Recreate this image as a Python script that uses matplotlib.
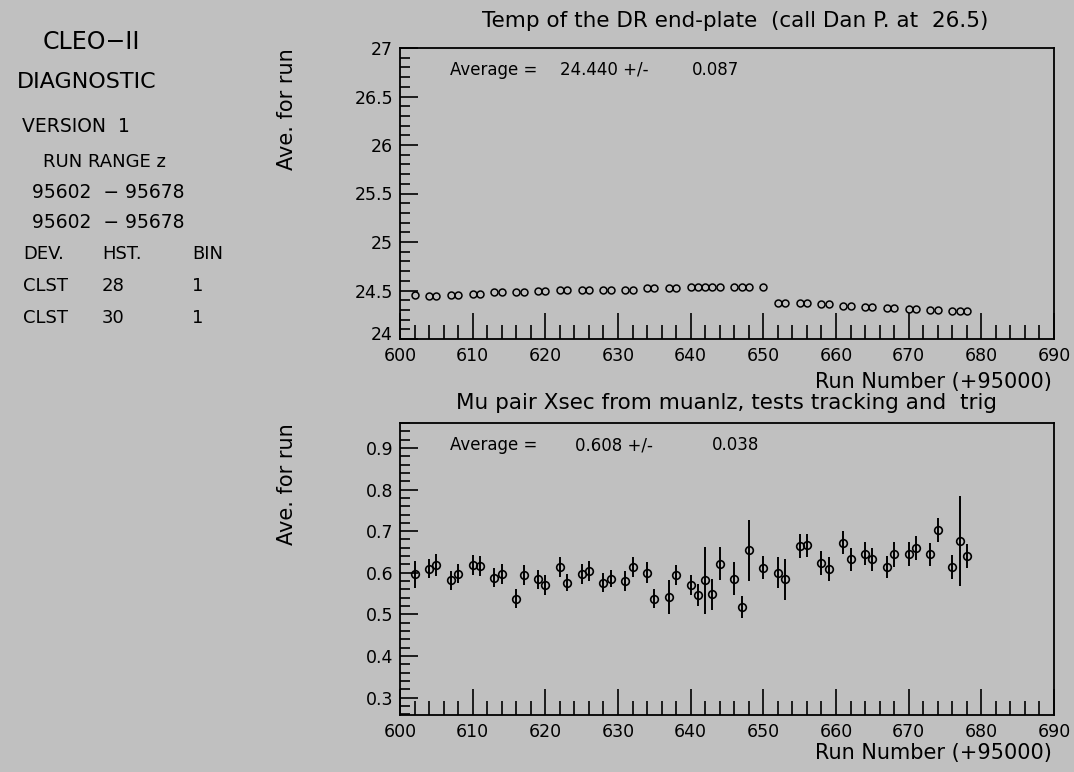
import matplotlib
matplotlib.use("Agg")
import matplotlib.pyplot as plt
import matplotlib.transforms as mtransforms
from matplotlib.ticker import MultipleLocator

# run numbers (+95000)
runs = [602, 604, 605, 607, 608, 610, 611, 613, 614, 616, 617, 619, 620,
        622, 623, 625, 626, 628, 629, 631, 632, 634, 635, 637, 638,
        640, 641, 642, 643, 644, 646, 647, 648, 650, 652, 653, 655, 656,
        658, 659, 661, 662, 664, 665, 667, 668, 670, 671, 673, 674,
        676, 677, 678]

# temperature of DR end-plate
temp = [24.454, 24.447, 24.447, 24.457, 24.457, 24.46, 24.46, 24.48, 24.48,
        24.48, 24.48, 24.49, 24.49, 24.505, 24.505, 24.505, 24.505, 24.505,
        24.505, 24.51, 24.51, 24.53, 24.53, 24.53, 24.53,
        24.54, 24.54, 24.54, 24.54, 24.54, 24.533, 24.533, 24.533, 24.533,
        24.37, 24.37, 24.37, 24.37, 24.36, 24.36, 24.34, 24.34, 24.33, 24.33,
        24.32, 24.32, 24.305, 24.305, 24.3, 24.3, 24.29, 24.29, 24.29]

# mu pair cross section
xsec = [0.596, 0.61, 0.618, 0.582, 0.598, 0.618, 0.616, 0.588, 0.598,
        0.538, 0.594, 0.584, 0.57, 0.614, 0.576, 0.598, 0.604, 0.576,
        0.586, 0.58, 0.614, 0.6, 0.538, 0.542, 0.594,
        0.57, 0.546, 0.582, 0.548, 0.622, 0.586, 0.518, 0.654, 0.612,
        0.6, 0.584, 0.664, 0.666, 0.624, 0.61, 0.672, 0.632, 0.646, 0.632,
        0.614, 0.644, 0.646, 0.66, 0.644, 0.702, 0.614, 0.676, 0.64]
xsec_err = [0.032, 0.023, 0.026, 0.023, 0.022, 0.024, 0.024, 0.023, 0.024,
            0.022, 0.024, 0.023, 0.024, 0.024, 0.021, 0.024, 0.025, 0.023,
            0.021, 0.024, 0.024, 0.025, 0.022, 0.04, 0.024,
            0.024, 0.026, 0.08, 0.037, 0.039, 0.04, 0.026, 0.073, 0.028,
            0.037, 0.049, 0.028, 0.028, 0.029, 0.029, 0.028, 0.028, 0.028,
            0.028, 0.026, 0.029, 0.029, 0.029, 0.027, 0.029, 0.029, 0.108,
            0.029]

info_rows = [("DEV.", "HST.", "BIN"), ("CLST", "28", "1"), ("CLST", "30", "1")]

W, H = 1074, 772
bg = "#c0c0c0"
plt.rcParams['font.family'] = ['DejaVu Sans']

fig = plt.figure(figsize=(W / 100, H / 100), dpi=100, facecolor=bg)


def px(x, y):
    return x / W, 1 - y / H


def frame(top, bottom):
    ax = fig.add_axes([400 / W, 1 - bottom / H, 654 / W, (bottom - top) / H])
    ax.set_facecolor(bg)
    for s in ax.spines.values():
        s.set_linewidth(1.3)
    ax.tick_params(which='both', direction='in', top=False, right=False,
                   labelsize=12.5, width=1.2)
    ax.tick_params(axis='x', which='major', length=19, pad=6)
    ax.tick_params(axis='x', which='minor', length=10)
    ax.tick_params(axis='y', which='major', length=13, pad=5)
    ax.tick_params(axis='y', which='minor', length=7)
    ax.set_xlim(600, 690)
    ax.xaxis.set_major_locator(MultipleLocator(10))
    ax.xaxis.set_minor_locator(MultipleLocator(2))
    return ax


# top panel
ax1 = frame(48, 339)
ax1.plot(runs, temp, 'o', ms=5, mfc='none', mec='black', mew=1.1)
ax1.set_ylim(24, 27)
ax1.yaxis.set_minor_locator(MultipleLocator(0.1))
ax1.set_yticks([24, 24.5, 25, 25.5, 26, 26.5, 27],
               ['24', '24.5', '25', '25.5', '26', '26.5', '27'])
# lift the corner "24" a little, as in the original
lbl = ax1.get_yticklabels()[0]
lbl.set_transform(lbl.get_transform() +
                  mtransforms.ScaledTranslation(0, 4 / 72, fig.dpi_scale_trans))

# bottom panel
ax2 = frame(423, 715)
ax2.errorbar(runs, xsec, yerr=xsec_err, fmt='o', ms=5.5, mfc='none',
             mec='black', mew=1.2, ecolor='black', elinewidth=1.4, capsize=0)
ax2.set_ylim(0.258, 0.96)
ax2.yaxis.set_major_locator(MultipleLocator(0.1))
ax2.yaxis.set_minor_locator(MultipleLocator(0.02))

# titles and labels
fig.text(*px(735, 21), "Temp of the DR end-plate  (call Dan P. at  26.5)",
         ha='center', va='center', fontsize=15.5)
fig.text(*px(727, 403), "Mu pair Xsec from muanlz, tests tracking and  trig",
         ha='center', va='center', fontsize=15.5)
fig.text(*px(1052, 382), "Run Number (+95000)", ha='right', va='center',
         fontsize=15)
fig.text(*px(1052, 753), "Run Number (+95000)", ha='right', va='center',
         fontsize=15)
fig.text(*px(287, 48), "Ave. for run", rotation=90, ha='center', va='top',
         fontsize=15)
fig.text(*px(287, 423), "Ave. for run", rotation=90, ha='center', va='top',
         fontsize=15)

avg_top = [(450, "Average ="), (560, "24.440 +/-"), (692, "0.087")]
avg_bot = [(450, "Average ="), (575, "0.608 +/-"), (712, "0.038")]
for (x, s) in avg_top:
    fig.text(*px(x, 70), s, ha='left', va='center', fontsize=12)
for (x, s) in avg_bot:
    fig.text(*px(x, 445), s, ha='left', va='center', fontsize=12)

# left info block
fig.text(*px(43, 42), "CLEO\u2212II", ha='left', va='center', fontsize=17)
fig.text(*px(17, 82), "DIAGNOSTIC", ha='left', va='center', fontsize=16)
fig.text(*px(22, 127), "VERSION  1", ha='left', va='center', fontsize=13.5)
fig.text(*px(43, 162), "RUN RANGE z", ha='left', va='center', fontsize=13)
fig.text(*px(32, 192), "95602  \u2212 95678", ha='left', va='center', fontsize=13.5)
fig.text(*px(32, 222), "95602  \u2212 95678", ha='left', va='center', fontsize=13.5)
for i, row in enumerate(info_rows):
    y = 254 + i * 32
    for x, s in zip((23, 102, 192), row):
        fig.text(*px(x, y), s, ha='left', va='center', fontsize=13)

fig.savefig("out.png", dpi=100, facecolor=bg)
